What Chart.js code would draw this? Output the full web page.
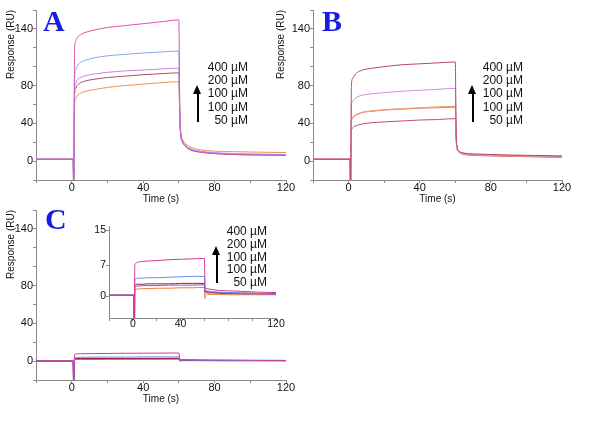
<!DOCTYPE html>
<html lang="en">
<head>
<meta charset="UTF-8">
<title>SPR sensorgrams</title>
<script src="https://cdn.jsdelivr.net/npm/chart.js"></script>
<style>
    body { margin: 0; background: #fff; }
    #wrap { position: relative; width: 600px; height: 422px; overflow: hidden; font-family: 'Liberation Sans', Arial, sans-serif; }
    canvas { position: absolute; }
    .letter { position: absolute; font-family: 'Liberation Serif', 'Times New Roman', serif; font-weight: bold; font-size: 30px; line-height: 30px; color: #1a1ae6; }
    .conc { position: absolute; text-align: right; font-size: 12px; line-height: 13.2px; color: #111; white-space: pre; }
    .arrow { position: absolute; width: 1.6px; background: #000; }
    .arrow::before { content: ''; position: absolute; left: -3.8px; top: -8px; border-left: 4.6px solid transparent; border-right: 4.6px solid transparent; border-bottom: 9px solid #000; }
</style>
</head>
<body>
<div id="wrap">
    <canvas id="chartA" width="300" height="210" style="left:0;top:0;width:300px;height:210px"></canvas>
    <canvas id="chartB" width="305" height="210" style="left:270px;top:0;width:305px;height:210px"></canvas>
    <canvas id="chartC" width="300" height="210" style="left:0;top:200px;width:300px;height:210px"></canvas>
    <canvas id="chartInset" width="200" height="116" style="left:87px;top:216px;width:200px;height:116px"></canvas>

    <div class="letter" style="left:43px;top:6px">A</div>
    <div class="letter" style="left:322px;top:6px">B</div>
    <div class="letter" style="left:45px;top:204px">C</div>

    <div class="conc" id="concA" style="right:352px;top:61px"></div>
    <div class="conc" id="concB" style="right:77px;top:61px"></div>
    <div class="conc" id="concC" style="right:333px;top:225px;line-height:12.8px"></div>

    <div class="arrow" style="left:197px;top:93px;height:29px"></div>
    <div class="arrow" style="left:472px;top:93px;height:29px"></div>
    <div class="arrow" style="left:216px;top:254px;height:29px"></div>
</div>

<script>
    // time axis (s), shared by all sensorgrams
    const t = [-20, 0.8, 1.1, 1.6, 2.2, 3, 5, 8, 12, 20, 30, 40, 50, 60, 60.5, 61, 62, 64, 67, 72, 80, 90, 105, 120];

    // panel A responses (RU)
    const a400  = [2, 2, -30, 118, 127, 130.5, 134, 136.5, 138.5, 141.5, 143.5, 145.5, 147.5, 149.5, 60, 32, 21, 15, 11.5, 9.5, 8, 7, 6.5, 6];
    const a200  = [2, 2, -30, 88, 97, 100.5, 104.5, 107, 109, 111.5, 113, 114.5, 115.5, 116.5, 55, 30, 21.5, 15.5, 12, 10, 8.5, 7.5, 7, 6.5];
    const a100a = [2, 2, -30, 75, 82, 85.5, 88.5, 90.5, 92, 94, 95.5, 96.5, 97.5, 98.5, 50, 30, 22, 16.5, 13, 10.5, 9, 8, 7.5, 7];
    const a100b = [2, 2, -30, 70, 77, 80, 83, 85, 86.5, 88.5, 90, 91.5, 92.5, 93.5, 48, 28, 20.5, 15, 11.5, 9.5, 8, 7, 6.5, 6];
    const a50   = [2, 2, -30, 60, 66, 69, 72, 74, 75.5, 78, 80, 81.5, 83, 84, 45, 29, 23, 18, 14.5, 12, 10.5, 10, 9.5, 9];

    // panel B responses (RU)
    const b400  = [2, 2, -30, 80, 87, 90, 94, 96.5, 98, 100, 102, 103, 104, 105, 30, 16, 11, 9, 8, 7.5, 7, 6.5, 6, 5.5];
    const b200  = [2, 2, -30, 58, 63, 65, 68, 70, 71, 72.5, 74, 75, 76, 77, 28, 15, 10.5, 8.5, 7.5, 7, 6.5, 6, 5.5, 5];
    const b100a = [2, 2, -30, 42, 46, 48, 50, 52, 53, 54.5, 55.5, 56.5, 57.5, 58, 25, 14, 10, 8, 7, 6.5, 6, 5.5, 5, 4.5];
    const b100b = [2, 2, -30, 41, 45, 47, 49.5, 51.5, 52.5, 54, 55, 56, 56.5, 57, 25, 14, 10, 8, 7, 6.5, 6, 5.5, 5, 4.5];
    const b50   = [2, 2, -30, 32, 35, 36.5, 38, 39.5, 40.5, 41.5, 42.5, 43.5, 44, 45, 22, 13, 9.5, 7.5, 6.5, 6, 5.5, 5, 4.5, 4];

    // panel C responses (RU), also used by the inset
    const c400  = [0.2, 0.2, -30, 7, 7.4, 7.6, 7.8, 7.9, 8, 8.1, 8.3, 8.4, 8.5, 8.6, 2, 1.8, 1.7, 1.6, 1.5, 1.3, 1.2, 1.1, 0.9, 0.8];
    const c200  = [0.2, 0.2, -30, 3.6, 3.9, 4, 4.1, 4.1, 4.2, 4.2, 4.3, 4.4, 4.5, 4.5, 1.4, 1.3, 1.2, 1.1, 1, 0.9, 0.8, 0.7, 0.6, 0.5];
    const c100a = [0.2, 0.2, -30, 2.5, 2.6, 2.7, 2.7, 2.7, 2.8, 2.8, 2.8, 2.9, 2.9, 2.9, 1.1, 1, 1, 0.9, 0.9, 0.8, 0.7, 0.7, 0.6, 0.6];
    const c100b = [0.2, 0.2, -30, 2.1, 2.2, 2.3, 2.3, 2.4, 2.4, 2.4, 2.5, 2.5, 2.5, 2.6, 0.9, 0.8, 0.8, 0.7, 0.7, 0.6, 0.6, 0.5, 0.5, 0.4];
    const c50   = [0.2, 0.2, -30, 1.4, 1.5, 1.6, 1.6, 1.7, 1.7, 1.8, 1.8, 1.9, 1.9, 2, -0.5, 0.3, 0.4, 0.4, 0.4, 0.4, 0.3, 0.3, 0.3, 0.3];

    // ticks and labels
    const concLabels = ['400 µM', '200 µM', '100 µM', '100 µM', '50 µM'];
    const xTickMarks = [-20, 0, 20, 40, 60, 80, 100, 120];
    const xTickLabels = [0, 40, 80, 120];
    const yTickMarks = [-20, 0, 20, 40, 60, 80, 100, 120, 140, 160];
    const yTickLabels = [0, 40, 80, 140];
    const insetXLabels = [0, 40, 120];
    const insetYTicks = [0, 7, 15];

    document.getElementById('concA').textContent = concLabels.join('\n');
    document.getElementById('concB').textContent = concLabels.join('\n');
    document.getElementById('concC').textContent = concLabels.join('\n');

    const axisColor = '#8a8a8a';
    const fontFamily = "'Liberation Sans', Arial, sans-serif";

    function series(values, color) {
        return {
            data: t.map((x, i) => ({ x: x, y: values[i] })),
            borderColor: color,
            borderWidth: 1,
            pointRadius: 0,
            cubicInterpolationMode: 'monotone',
            fill: false
        };
    }

    function makeChart(id, datasets, cfg) {
        return new Chart(document.getElementById(id), {
            type: 'line',
            data: { datasets: datasets },
            options: {
                responsive: false,
                animation: false,
                events: [],
                layout: { padding: cfg.padding },
                plugins: { legend: { display: false }, tooltip: { enabled: false } },
                scales: {
                    x: {
                        type: 'linear',
                        min: -20, max: 120,
                        afterFit: s => { s.height = cfg.xHeight; },
                        afterBuildTicks: s => { s.ticks = cfg.xMarks.map(v => ({ value: v })); },
                        ticks: {
                            autoSkip: false, maxRotation: 0, padding: cfg.xPad, color: '#111',
                            font: { family: fontFamily, size: cfg.tickSize },
                            callback: v => cfg.xLabels.includes(v) ? String(v) : ''
                        },
                        grid: { drawOnChartArea: false, tickLength: 3, color: axisColor },
                        border: { color: axisColor },
                        title: {
                            display: !!cfg.xTitle, text: cfg.xTitle || '', color: '#111',
                            font: { family: fontFamily, size: 10 }, padding: { top: 5, bottom: 5 }
                        }
                    },
                    y: {
                        min: cfg.yMin, max: cfg.yMax,
                        afterFit: s => { s.width = cfg.yWidth; },
                        afterBuildTicks: s => { s.ticks = cfg.yMarks.map(v => ({ value: v })); },
                        ticks: {
                            autoSkip: false, padding: 0, color: '#111',
                            font: { family: fontFamily, size: cfg.tickSize },
                            callback: v => cfg.yLabels.includes(v) ? String(v) : ''
                        },
                        grid: { drawOnChartArea: false, tickLength: 3, color: axisColor },
                        border: { color: axisColor },
                        title: {
                            display: !!cfg.yTitle, text: cfg.yTitle || '', align: 'end', color: '#111',
                            font: { family: fontFamily, size: 10 }, padding: { top: 5, bottom: 5 }
                        }
                    }
                }
            }
        });
    }

    const mainCfg = {
        xHeight: 30, xPad: -2, tickSize: 11,
        xMarks: xTickMarks, xLabels: xTickLabels,
        yMin: -20, yMax: 160, yMarks: yTickMarks, yLabels: yTickLabels,
        xTitle: 'Time (s)', yTitle: 'Response (RU)'
    };

    makeChart('chartA', [
        series(a400, '#e052b0'),
        series(a200, '#86a2f2'),
        series(a100a, '#cc7fe6'),
        series(a100b, '#a8505c'),
        series(a50, '#ee9058')
    ], Object.assign({}, mainCfg, { yWidth: 36, padding: { top: 10, right: 14, left: 0, bottom: 0 } }));

    makeChart('chartB', [
        series(b400, '#b9485c'),
        series(b200, '#d68ae6'),
        series(b100a, '#f0a066'),
        series(b100b, '#e0708c'),
        series(b50, '#c44e66')
    ], Object.assign({}, mainCfg, { yWidth: 43, padding: { top: 10, right: 13, left: 0, bottom: 0 } }));

    const cSets = () => [
        series(c400, '#d9369a'),
        series(c200, '#5d8ff0'),
        series(c100a, '#a01c48'),
        series(c100b, '#9a4aa8'),
        series(c50, '#f07a2e')
    ];

    makeChart('chartC', cSets(),
        Object.assign({}, mainCfg, { yWidth: 36, padding: { top: 10, right: 14, left: 0, bottom: 0 } }));

    makeChart('chartInset', cSets(), {
        xHeight: 14, xPad: -3, tickSize: 10.5,
        xMarks: xTickMarks, xLabels: insetXLabels,
        yMin: -5, yMax: 16, yMarks: insetYTicks, yLabels: insetYTicks, yWidth: 22,
        padding: { top: 10, right: 11, left: 0, bottom: 0 }
    });
</script>
</body>
</html>
